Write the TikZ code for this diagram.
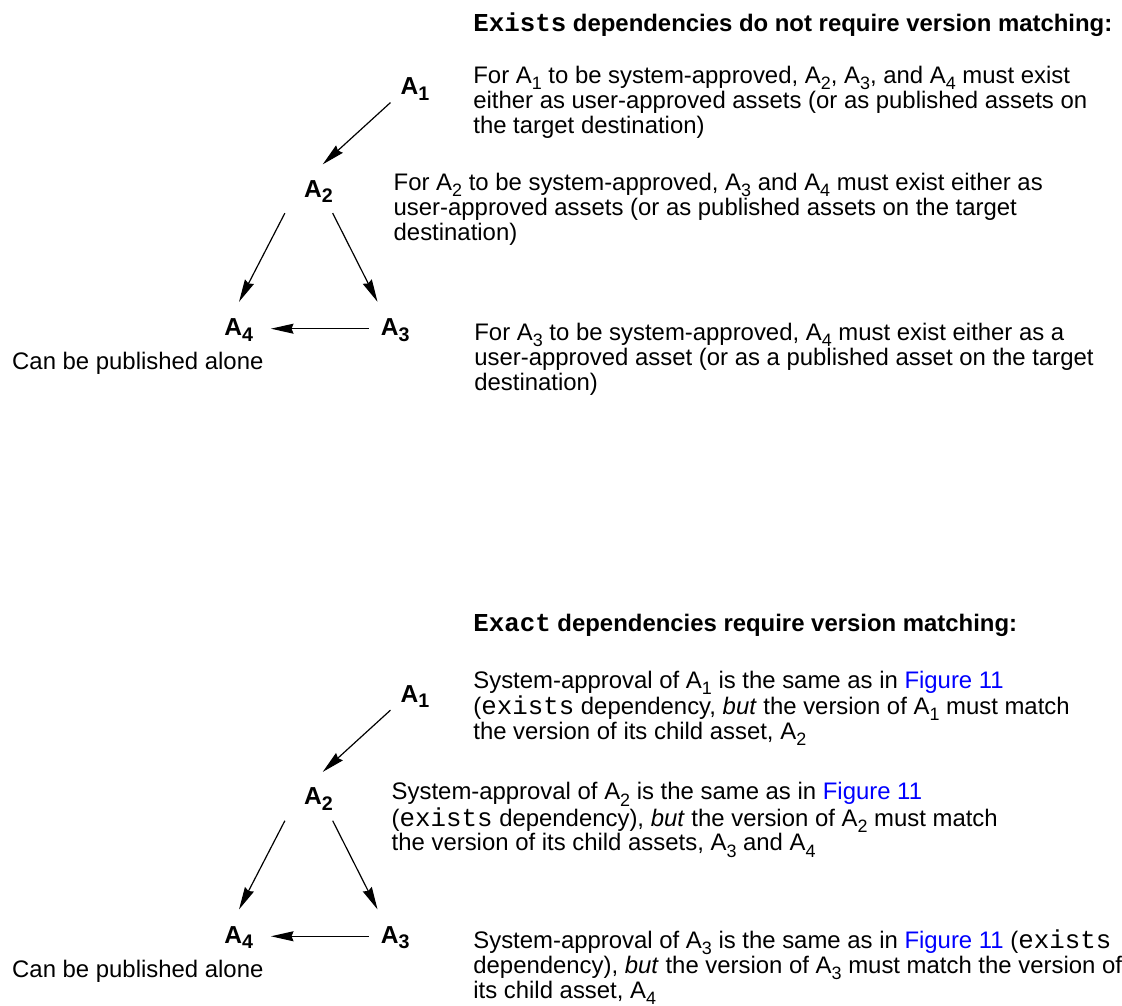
\documentclass[tikz,border=0pt]{standalone}
\usepackage{fontspec}
\setmainfont{Liberation Sans}
\setmonofont[Scale=1.08]{Liberation Mono}
\usetikzlibrary{arrows.meta,calc}
\definecolor{linkblue}{RGB}{0,0,255}
\newcommand\sbs[1]{\raisebox{-0.26em}{\scalebox{0.75}{#1}}}
\newcommand\An[1]{A\sbs{#1}}
\newcommand\Lab[1]{A\raisebox{-0.22em}{\scalebox{0.8}{#1}}}
\newcommand\fig{\textcolor{linkblue}{Figure 11}}
\begin{document}
\begin{tikzpicture}[x=0.75pt,y=-0.75pt,
  font=\fontsize{18}{18.75}\selectfont,
  lab/.style={anchor=base west, inner sep=0pt, font=\fontsize{18.5}{18.75}\selectfont\bfseries},
  txt/.style={anchor=base west, inner sep=0pt},
  arr/.style={-{Stealth[length=17pt,width=7.5pt,inset=1.5pt]}, line width=0.9pt, black}]
\path[fill=white] (0,0) rectangle (1122,1010);

% ---------- top: Exists ----------
\node[txt] (title1) at (475,32) {\textbf{\texttt{Exists} dependencies do not require version matching:}};
\node[lab] (a1) at (402,95) {\Lab{1}};
\node[lab] (a2) at (305,198) {\Lab{2}};
\node[lab] (a4) at (225,337) {\Lab{4}};
\node[lab] (a3) at (382,337) {\Lab{3}};
\node[txt] (pub1) at (12,371) {Can be published alone};
\node[txt] (t1) at (475,84) {\vtop{%
  \hbox{For \An{1} to be system-approved, \An{2}, \An{3}, and \An{4} must exist}
  \hbox{either as user-approved assets (or as published assets on}
  \hbox{the target destination)}}};
\node[txt] (t2) at (395,191) {\vtop{%
  \hbox{For \An{2} to be system-approved, \An{3} and \An{4} must exist either as}
  \hbox{user-approved assets (or as published assets on the target}
  \hbox{destination)}}};
\node[txt] (t3) at (476,342) {\vtop{%
  \hbox{For \An{3} to be system-approved, \An{4} must exist either as a}
  \hbox{user-approved asset (or as a published asset on the target}
  \hbox{destination)}}};
\draw[arr] ($(a1.base west)+(-10,8)$) -- ($(a2.base west)+(19,-33)$);
\draw[arr] ($(a2.base west)+(-19,16)$) -- ($(a4.base west)+(15,-34)$);
\draw[arr] ($(a2.base west)+(29,16)$) -- ($(a3.base west)+(-3,-34)$);
\draw[arr] ($(a3.base west)+(-12,-7)$) -- ($(a4.base west)+(47,-7)$);

% ---------- bottom: Exact ----------
\node[txt] (title2) at (475,634) {\textbf{\texttt{Exact} dependencies require version matching:}};
\node[lab] (b1) at (402,705) {\Lab{1}};
\node[lab] (b2) at (305,808) {\Lab{2}};
\node[lab] (b4) at (225,947) {\Lab{4}};
\node[lab] (b3) at (382,947) {\Lab{3}};
\node[txt] (pub2) at (12,981) {Can be published alone};
\node[txt] (u1) at (475,691) {\vtop{%
  \hbox{System-approval of \An{1} is the same as in \fig}
  \hbox{(\texttt{exists} dependency, \textit{but} the version of \An{1} must match}
  \hbox{the version of its child asset, \An{2}}}};
\node[txt] (u2) at (393,803) {\vtop{%
  \hbox{System-approval of \An{2} is the same as in \fig}
  \hbox{(\texttt{exists} dependency), \textit{but} the version of \An{2} must match}
  \hbox{the version of its child assets, \An{3} and \An{4}}}};
\node[txt] (u3) at (475,952) {\vtop{%
  \hbox{System-approval of \An{3} is the same as in \fig{} (\texttt{exists}}
  \hbox{dependency), \textit{but} the version of \An{3} must match the version of}
  \hbox{its child asset, \An{4}}}};
\draw[arr] ($(b1.base west)+(-10,8)$) -- ($(b2.base west)+(19,-33)$);
\draw[arr] ($(b2.base west)+(-19,16)$) -- ($(b4.base west)+(15,-34)$);
\draw[arr] ($(b2.base west)+(29,16)$) -- ($(b3.base west)+(-3,-34)$);
\draw[arr] ($(b3.base west)+(-12,-7)$) -- ($(b4.base west)+(47,-7)$);
\end{tikzpicture}
\end{document}
